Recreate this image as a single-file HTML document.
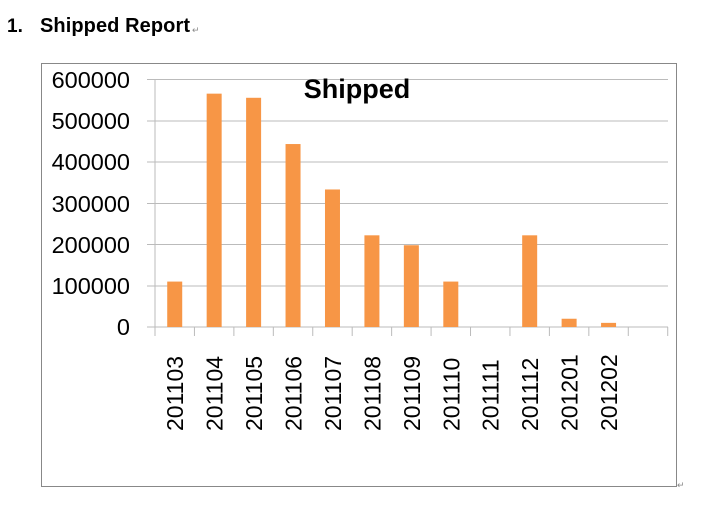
<!DOCTYPE html>
<html><head><meta charset="utf-8"><style>
body{margin:0;width:703px;height:500px;background:#fff;overflow:hidden;font-family:"Liberation Sans",sans-serif}
</style></head><body>
<svg width="703" height="500" xmlns="http://www.w3.org/2000/svg" font-family="Liberation Sans, sans-serif">
<text x="7" y="32" font-size="19" font-weight="bold">1.</text>
<text x="40" y="32" font-size="20" font-weight="bold" textLength="150">Shipped Report</text>
<text x="192" y="33" font-size="9" fill="#888">↵</text>
<rect x="41.5" y="63.5" width="635" height="423" fill="none" stroke="#888" stroke-width="1"/>
<text x="677" y="488" font-size="9" fill="#888">↵</text>
<g stroke="#bbb" stroke-width="1">
<line x1="147" y1="79.5" x2="668" y2="79.5"/>
<line x1="147" y1="121" x2="668" y2="121"/>
<line x1="147" y1="162" x2="668" y2="162"/>
<line x1="147" y1="203.5" x2="668" y2="203.5"/>
<line x1="147" y1="244.5" x2="668" y2="244.5"/>
<line x1="147" y1="286" x2="668" y2="286"/>
<line x1="147" y1="327" x2="668" y2="327"/>
<line x1="155" y1="79" x2="155" y2="336"/>
</g>
<g font-size="23.5" text-anchor="end" fill="#000">
<text x="130" y="88">600000</text>
<text x="130" y="129">500000</text>
<text x="130" y="170">400000</text>
<text x="130" y="212">300000</text>
<text x="130" y="253">200000</text>
<text x="130" y="294">100000</text>
<text x="130" y="335">0</text>
</g>
<text x="357" y="98" font-size="27" font-weight="bold" text-anchor="middle">Shipped</text>
<g id="bars" fill="#f79646"></g>
<g id="ticks" stroke="#bbb"></g>
<g id="labels" font-size="23"></g>
<script>
var v=[110000,565000,555000,443000,333000,222000,198000,110000,0,222000,20000,10000];
var n=["201103","201104","201105","201106","201107","201108","201109","201110","201111","201112","201201","201202"];
var ns="http://www.w3.org/2000/svg",s=39.44,x0=155,y0=327,k=41.3/100000;
for(var i=0;i<12;i++){var c=x0+s*(i+0.5);
if(v[i]>0){var r=document.createElementNS(ns,"rect");r.setAttribute("x",c-7.5);r.setAttribute("width",15);r.setAttribute("y",y0-v[i]*k);r.setAttribute("height",v[i]*k);document.getElementById("bars").appendChild(r);}
var t=document.createElementNS(ns,"text");t.setAttribute("transform","translate("+(c+8.5)+",431) rotate(-90)");t.textContent=n[i];document.getElementById("labels").appendChild(t);}
for(var i=0;i<=13;i++){var l=document.createElementNS(ns,"line");var x=x0+s*i;l.setAttribute("x1",x);l.setAttribute("x2",x);l.setAttribute("y1",327);l.setAttribute("y2",336);document.getElementById("ticks").appendChild(l);}
</script>
</svg>
</body></html>
